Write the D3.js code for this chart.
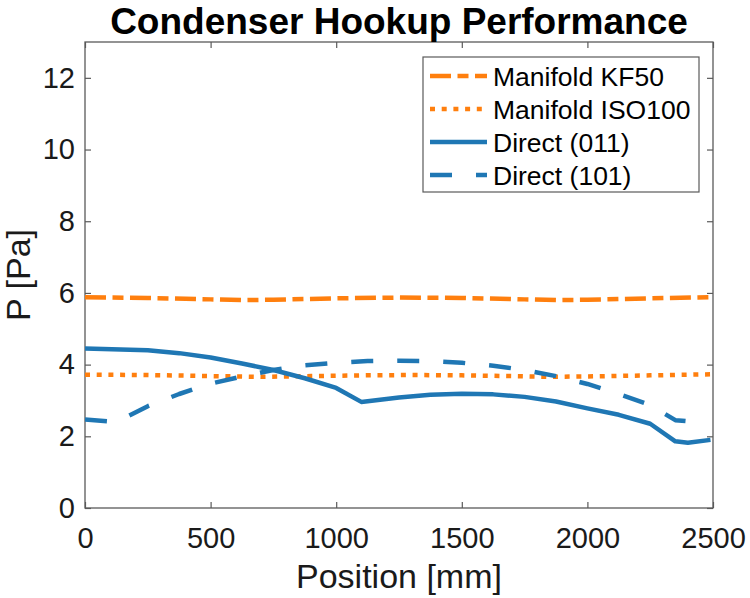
<!DOCTYPE html>
<html>
<head>
<meta charset="utf-8">
<script src="https://cdn.jsdelivr.net/npm/d3@7"></script>
<style>
  body { margin: 0; background: #fff; }
  text { font-family: "Liberation Sans", Arial, Helvetica, sans-serif; }
</style>
</head>
<body>
<svg id="chart" width="750" height="598"></svg>
<script>
// Series: [position mm, pressure Pa]
const manifoldKF50 = [[0, 5.88], [250, 5.86], [500, 5.82], [625, 5.80], [750, 5.81], [1000, 5.85],
    [1250, 5.87], [1500, 5.86], [1750, 5.82], [1875, 5.80], [2000, 5.81], [2250, 5.85], [2490, 5.88]];
const manifoldISO100 = [[0, 3.72], [250, 3.71], [500, 3.68], [700, 3.66], [900, 3.68], [1100, 3.70],
    [1300, 3.71], [1500, 3.70], [1700, 3.68], [1850, 3.66], [2000, 3.67], [2250, 3.70], [2490, 3.73]];
const direct011 = [[0, 4.45], [250, 4.40], [375, 4.32], [500, 4.20], [625, 4.03], [750, 3.85],
    [875, 3.62], [1000, 3.35], [1100, 2.96], [1250, 3.08], [1375, 3.16], [1500, 3.19], [1625, 3.17],
    [1750, 3.10], [1875, 2.97], [2000, 2.78], [2125, 2.60], [2250, 2.35], [2350, 1.86], [2400, 1.82],
    [2490, 1.90]];
const direct101 = [[0, 2.47], [125, 2.40], [250, 2.84], [375, 3.18], [500, 3.47], [625, 3.67],
    [750, 3.85], [875, 3.98], [1000, 4.05], [1125, 4.10], [1250, 4.11], [1375, 4.10], [1500, 4.05],
    [1625, 3.97], [1750, 3.85], [1875, 3.68], [2000, 3.46], [2125, 3.18], [2250, 2.87], [2350, 2.45],
    [2400, 2.42], [2480, 2.45]];

const seriesNames = ['Manifold KF50', 'Manifold ISO100', 'Direct (011)', 'Direct (101)'];
const xTicks = [0, 500, 1000, 1500, 2000, 2500];
const yTicks = [0, 2, 4, 6, 8, 10, 12];

const orange = '#ff7f0e';
const blue = '#1f77b4';
const axisColor = '#5a5a5a';

// one style per series, same order as the names
const styles = [
    {data: manifoldKF50, color: orange, dash: '21 6.5 11 6.5'},
    {data: manifoldISO100, color: orange, dash: '5 6.7'},
    {data: direct011, color: blue, dash: null},
    {data: direct101, color: blue, dash: '22 24'}
];

const svg = d3.select('#chart');
const margin = {left: 85, top: 42, right: 750 - 713, bottom: 598 - 508};
const width = 750 - margin.left - margin.right;
const height = 598 - margin.top - margin.bottom;

const x = d3.scaleLinear().domain([0, 2500]).range([0, width]);
const y = d3.scaleLinear().domain([0, 13]).range([height, 0]);

svg.append('defs').append('clipPath').attr('id', 'plotClip')
    .append('rect').attr('width', width).attr('height', height);

const g = svg.append('g').attr('transform', 'translate(' + margin.left + ',' + margin.top + ')');

// Ticks point inward on all four sides, matlab style.
const tickLen = -6;
const fmt = d3.format('d');
const bottomAxis = g.append('g').attr('transform', 'translate(0,' + height + ')')
    .call(d3.axisBottom(x).tickValues(xTicks).tickFormat(fmt)
        .tickSizeInner(tickLen).tickSizeOuter(0).tickPadding(19));
const leftAxis = g.append('g')
    .call(d3.axisLeft(y).tickValues(yTicks).tickFormat(fmt)
        .tickSizeInner(tickLen).tickSizeOuter(0).tickPadding(10));
const topAxis = g.append('g')
    .call(d3.axisTop(x).tickValues(xTicks).tickSizeInner(tickLen).tickSizeOuter(0).tickFormat(''));
const rightAxis = g.append('g').attr('transform', 'translate(' + width + ',0)')
    .call(d3.axisRight(y).tickValues(yTicks).tickSizeInner(tickLen).tickSizeOuter(0).tickFormat(''));

[bottomAxis, leftAxis, topAxis, rightAxis].forEach(function(a) {
    a.select('.domain').remove();
    a.selectAll('.tick line').attr('stroke', axisColor).attr('stroke-width', 1.2);
    a.selectAll('.tick text').attr('fill', '#1a1a1a').style('font-size', '29px');
});

g.append('rect')
    .attr('width', width).attr('height', height)
    .attr('fill', 'none').attr('stroke', axisColor).attr('stroke-width', 1.3);

const line = d3.line().x(d => x(d[0])).y(d => y(d[1]));

g.append('g').attr('clip-path', 'url(#plotClip)')
    .selectAll('path').data(styles).join('path')
    .attr('d', d => line(d.data))
    .attr('fill', 'none')
    .attr('stroke', d => d.color)
    .attr('stroke-width', 4.5)
    .attr('stroke-dasharray', d => d.dash)
    .attr('stroke-linejoin', 'round');

// Legend box, top right inside the axes
const legend = g.append('g').attr('transform', 'translate(' + (423 - margin.left) + ',' + (57 - margin.top) + ')');
legend.append('rect')
    .attr('width', 276).attr('height', 135)
    .attr('fill', '#fff').attr('stroke', axisColor).attr('stroke-width', 1.2);

const rowY = d3.scalePoint().domain(seriesNames).range([19, 118]);
const rows = legend.selectAll('g.row').data(styles).join('g')
    .attr('class', 'row')
    .attr('transform', (d, i) => 'translate(0,' + rowY(seriesNames[i]) + ')');
rows.append('line')
    .attr('x1', 7).attr('x2', 64).attr('y1', 0).attr('y2', 0)
    .attr('stroke', d => d.color)
    .attr('stroke-width', 4.5)
    .attr('stroke-dasharray', d => d.dash);
rows.append('text')
    .attr('x', 70).attr('dy', '0.36em')
    .style('font-size', '26.5px').attr('fill', '#000')
    .text((d, i) => seriesNames[i]);

// Title and axis labels
svg.append('text')
    .attr('x', margin.left + width / 2).attr('y', 34)
    .attr('text-anchor', 'middle')
    .style('font-size', '37px').style('font-weight', 'bold').attr('fill', '#000')
    .text('Condenser Hookup Performance');

svg.append('text')
    .attr('x', margin.left + width / 2).attr('y', 588)
    .attr('text-anchor', 'middle')
    .style('font-size', '34px').attr('fill', '#1a1a1a')
    .text('Position [mm]');

svg.append('text')
    .attr('transform', 'translate(30,' + (margin.top + height / 2) + ') rotate(-90)')
    .attr('text-anchor', 'middle')
    .style('font-size', '34px').attr('fill', '#1a1a1a')
    .text('P [Pa]');
</script>
</body>
</html>
